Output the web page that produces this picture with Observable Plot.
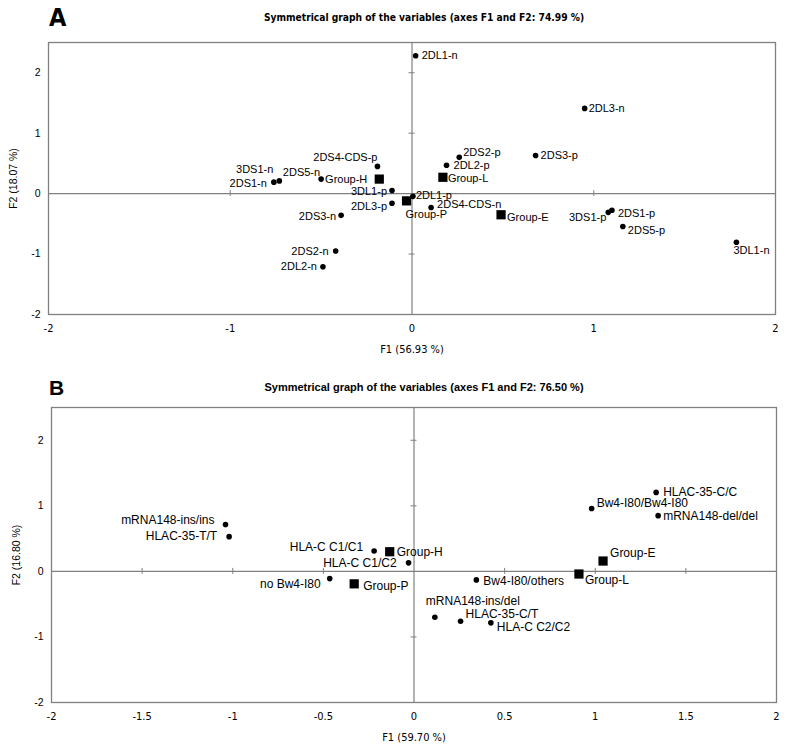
<!DOCTYPE html>
<html>
<head>
<meta charset="utf-8">
<script src="https://cdn.jsdelivr.net/npm/d3@7"></script>
<script src="https://cdn.jsdelivr.net/npm/@observablehq/plot@0.6"></script>
<style>
  body { margin: 0; background: #fff; }
  #wrap { position: relative; width: 787px; height: 749px; background: #fff; }
  .letter { position: absolute; font-weight: bold; color: #000; line-height: 1; }
  .title { position: absolute; transform: translate(-50%, -50%); white-space: nowrap; font-weight: bold; color: #000; }
  .panel { position: absolute; left: 0; }
  .panel svg { display: block; }
</style>
</head>
<body>
<div id="wrap">
  <div class="letter" style="left:49px;top:5px;font-family:'Liberation Sans Narrow','DejaVu Sans Condensed',sans-serif;font-size:25px;">A</div>
  <div class="title" style="left:424px;top:17px;font-family:'Liberation Sans Narrow','DejaVu Sans Condensed',sans-serif;font-size:10.2px;">Symmetrical graph of the variables (axes F1 and F2: 74.99 %)</div>
  <div class="panel" id="pA" style="top:30px"></div>
  <div class="letter" style="left:49px;top:377px;font-family:'Liberation Sans',Arial,sans-serif;font-size:21px;">B</div>
  <div class="title" style="left:424px;top:387px;font-family:'Liberation Sans',Arial,sans-serif;font-size:11px;">Symmetrical graph of the variables (axes F1 and F2: 76.50 %)</div>
  <div class="panel" id="pB" style="top:395px"></div>
</div>
<script>
// ---------- Panel A data ----------
const namesA = ["2DL1-n","2DL3-n","2DS3-p","2DS2-p","2DL2-p","2DS4-CDS-p","3DS1-n","2DS1-n","2DS5-n","3DL1-p","2DL1-p","2DL3-p","2DS4-CDS-n","2DS3-n","2DS2-n","2DL2-n","3DS1-p","2DS1-p","2DS5-p","3DL1-n","Group-H","Group-L","Group-P","Group-E"];
const f1A = [0.02, 0.95, 0.68, 0.26, 0.19, -0.19, -0.73, -0.76, -0.50, -0.11, 0.005, -0.11, 0.105, -0.39, -0.42, -0.49, 1.08, 1.10, 1.16, 1.785, -0.18, 0.17, -0.03, 0.49];
const f2A = [2.28, 1.41, 0.63, 0.60, 0.47, 0.45, 0.21, 0.19, 0.24, 0.05, -0.045, -0.16, -0.23, -0.36, -0.95, -1.21, -0.31, -0.275, -0.545, -0.805, 0.24, 0.27, -0.12, -0.35];
const kindA = ["v","v","v","v","v","v","v","v","v","v","v","v","v","v","v","v","v","v","v","v","g","g","g","g"];
const xTicksA = [-2, -1, 0, 1, 2];
const yTicksA = [-2, -1, 0, 1, 2];
const xLabelA = "F1 (56.93 %)";
const yLabelA = "F2 (18.07 %)";

// ---------- Panel B data ----------
const namesB = ["mRNA148-ins/ins","HLAC-35-T/T","HLA-C C1/C1","HLA-C C1/C2","no Bw4-I80","HLAC-35-C/C","Bw4-I80/Bw4-I80","mRNA148-del/del","Bw4-I80/others","mRNA148-ins/del","HLAC-35-C/T","HLA-C C2/C2","Group-H","Group-P","Group-E","Group-L"];
const f1B = [-1.04, -1.02, -0.22, -0.03, -0.465, 1.336, 0.98, 1.347, 0.344, 0.115, 0.257, 0.424, -0.134, -0.33, 1.043, 0.91];
const f2B = [0.715, 0.53, 0.31, 0.13, -0.11, 1.205, 0.96, 0.85, -0.13, -0.70, -0.76, -0.785, 0.30, -0.19, 0.158, -0.04];
const kindB = ["v","v","v","v","v","v","v","v","v","v","v","v","g","g","g","g"];
const xTicksB = [-2, -1.5, -1, -0.5, 0, 0.5, 1, 1.5, 2];
const yTicksB = [-2, -1, 0, 1, 2];
const xLabelB = "F1 (59.70 %)";
const yLabelB = "F2 (16.80 %)";

// ---------- label placement (layout only) : [textAnchor, dx, dy] ----------
const placeA = {
  "2DL1-n": ["start", 6, 0], "2DL3-n": ["start", 4, 0], "2DS3-p": ["start", 5, 0],
  "2DS2-p": ["start", 4, -5], "2DL2-p": ["start", 7, 0], "2DS4-CDS-p": ["end", 0, -9],
  "3DS1-n": ["end", -6, -11], "2DS1-n": ["end", -7, 1], "2DS5-n": ["end", -1, -7],
  "3DL1-p": ["end", -5, 1], "2DL1-p": ["start", 3, -1], "2DL3-p": ["end", -5, 3],
  "2DS4-CDS-n": ["start", 6, -3], "2DS3-n": ["end", -5, 1], "2DS2-n": ["end", -7, 0],
  "2DL2-n": ["end", -6, 0], "3DS1-p": ["end", -2, 5], "2DS1-p": ["start", 6, 3],
  "2DS5-p": ["start", 5, 4], "3DL1-n": ["start", -3, 8], "Group-H": ["end", -12, 0],
  "Group-L": ["start", 5, 1], "Group-P": ["start", -1, 14], "Group-E": ["start", 6, 3]
};
const placeB = {
  "mRNA148-ins/ins": ["end", -11, -4], "HLAC-35-T/T": ["end", -12, 0],
  "HLA-C C1/C1": ["end", -11, -4], "HLA-C C1/C2": ["end", -12, 0],
  "no Bw4-I80": ["end", -9, 6], "HLAC-35-C/C": ["start", 7, 0],
  "Bw4-I80/Bw4-I80": ["start", 5, -5], "mRNA148-del/del": ["start", 5, 0],
  "Bw4-I80/others": ["start", 7, 1], "mRNA148-ins/del": ["start", -9, -16],
  "HLAC-35-C/T": ["start", 5, -7], "HLA-C C2/C2": ["start", 6, 4],
  "Group-H": ["start", 7, 0], "Group-P": ["start", 9, 2],
  "Group-E": ["start", 7, -8], "Group-L": ["start", 6, 6]
};

const NARROW = "'Liberation Sans Narrow','DejaVu Sans Condensed',sans-serif";
const REG = "'Liberation Sans',Arial,sans-serif";
const LINE = "#808080";

function panel(cfg) {
  const data = cfg.names.map((n, i) => ({name: n, x: cfg.f1[i], y: cfg.f2[i], kind: cfg.kind[i]}));
  const vars = data.filter(d => d.kind === "v");
  const groups = data.filter(d => d.kind === "g");
  const labelMarks = data.map(d => {
    const p = cfg.place[d.name];
    return Plot.text([d], {x: "x", y: "y", text: "name", textAnchor: p[0], dx: p[1], dy: p[2],
      fontSize: cfg.labelSize, fontFamily: REG, fill: "#000"});
  });
  const xt = cfg.xTicks.filter(t => t !== 0 && Math.abs(t) !== 2);
  const yt = cfg.yTicks.filter(t => t !== 0 && Math.abs(t) !== 2).concat([2]);
  return Plot.plot({
    width: 787,
    height: cfg.height,
    marginLeft: cfg.marginLeft,
    marginRight: cfg.marginRight,
    marginTop: 12,
    marginBottom: 46,
    style: {background: "#fff", color: "#000", overflow: "visible"},
    x: {domain: [-2, 2]},
    y: {domain: [-2, 2.5]},
    marks: [
      Plot.ruleX([0], {stroke: LINE, strokeWidth: 1.2}),
      Plot.ruleY([0], {stroke: LINE, strokeWidth: 1.2}),
      Plot.ruleX(xt, {x: d => d, y1: 0, y2: 0, insetTop: -3, insetBottom: -3, stroke: LINE}),
      Plot.ruleY(yt, {y: d => d, x1: 0, x2: 0, insetLeft: -3, insetRight: -3, stroke: LINE}),
      Plot.frame({stroke: LINE, strokeWidth: 1.3}),
      Plot.axisX({ticks: cfg.xTicks, tickSize: 0, tickPadding: 10, tickFormat: d => String(d),
        fontFamily: NARROW, fontSize: 11, label: cfg.xLabel, labelAnchor: "center", labelOffset: 38, labelArrow: "none"}),
      Plot.axisY({ticks: cfg.yTicks, tickSize: 0, tickPadding: 8, tickFormat: d => String(d),
        fontFamily: REG, fontSize: 10.5, label: cfg.yLabel, labelAnchor: "center", labelOffset: 39, labelArrow: "none"}),
      Plot.dot(vars, {x: "x", y: "y", r: 2.8, fill: "#000", stroke: "none"}),
      Plot.dot(groups, {x: "x", y: "y", r: 5.2, symbol: "square", fill: "#000", stroke: "none"}),
      ...labelMarks
    ]
  });
}

document.getElementById("pA").appendChild(panel({
  names: namesA, f1: f1A, f2: f2A, kind: kindA, place: placeA,
  xTicks: xTicksA, yTicks: yTicksA, xLabel: xLabelA, yLabel: yLabelA,
  height: 330, marginLeft: 48, marginRight: 12, labelSize: 11
}));
document.getElementById("pB").appendChild(panel({
  names: namesB, f1: f1B, f2: f2B, kind: kindB, place: placeB,
  xTicks: xTicksB, yTicks: yTicksB, xLabel: xLabelB, yLabel: yLabelB,
  height: 353, marginLeft: 51, marginRight: 11, labelSize: 12
}));
</script>
</body>
</html>
